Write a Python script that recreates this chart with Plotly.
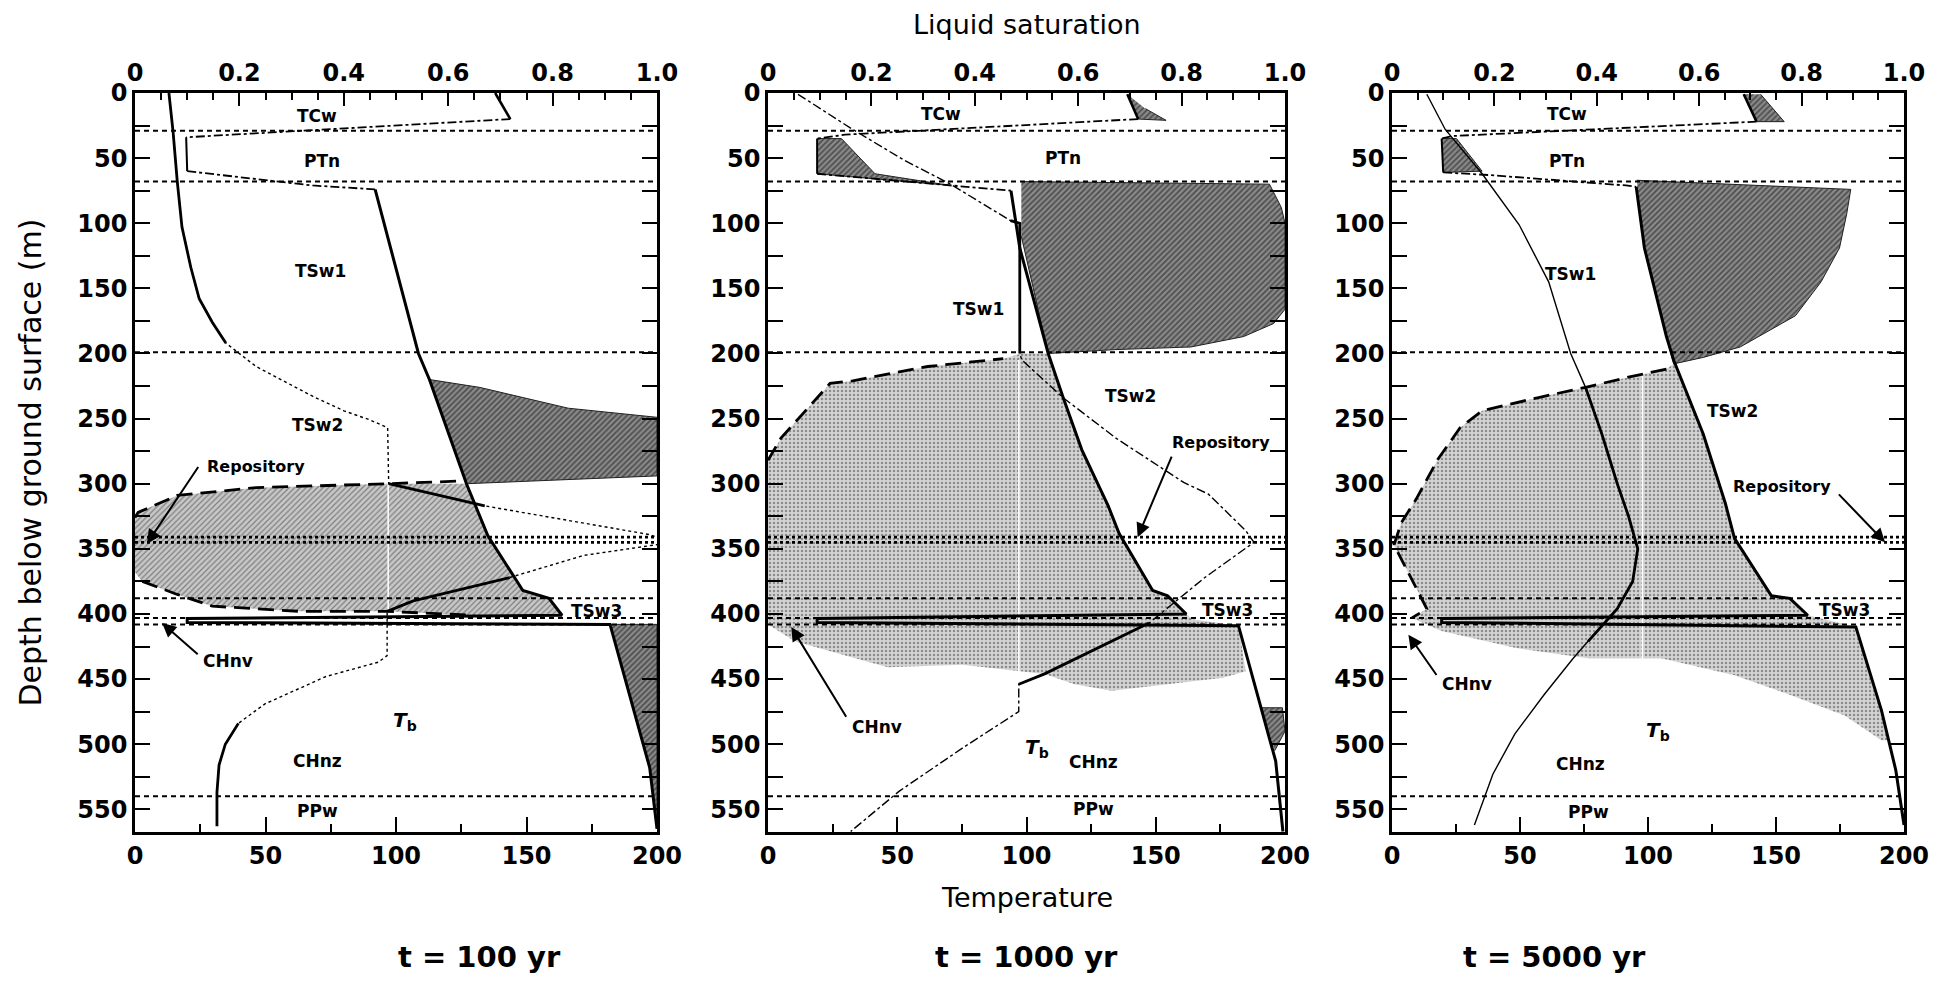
import plotly.graph_objects as go

# ---------------- data ----------------
LAYER_DEPTHS = [29, 68, 199, 388, 403, 408, 540]
REPOSITORY_DEPTHS = [341, 345]
DEPTH_TICKS = [0, 50, 100, 150, 200, 250, 300, 350, 400, 450, 500, 550]
TEMP_TICKS = [0, 50, 100, 150, 200]
SAT_TICKS = [0, 0.2, 0.4, 0.6, 0.8, 1.0]
SAT_TICK_TEXT = ["0", "0.2", "0.4", "0.6", "0.8", "1.0"]
PANEL_TITLES = ["t = 100 yr", "t = 1000 yr", "t = 5000 yr"]

# temperature profiles (deg C, depth m)
P1_TEMP = [(13, 0), (14.6, 30), (16.2, 68), (18, 103), (21.4, 134), (24.6, 158), (29.6, 176),
           (34.8, 192), (46.4, 210), (68.2, 233), (80, 244), (90, 251), (96.8, 257), (97.2, 300),
           (134, 317), (197, 339), (206, 345), (172, 355), (143.6, 372), (106.6, 390), (96.6, 398),
           (96.6, 432), (93.2, 437), (73.2, 448), (49.8, 469), (39.6, 484), (34.6, 500),
           (32.2, 516), (31.4, 537), (31.4, 563)]
P2_TEMP = [(11.6, 1), (32.8, 28), (53, 52), (70.6, 70), (93.8, 98), (97.4, 100), (97.4, 200),
           (98.2, 205), (114.2, 234), (134.6, 265), (160.8, 299), (170.4, 308), (184.8, 336),
           (188, 345), (169, 372), (154.6, 395), (147.4, 407), (107, 446), (97, 454), (97, 475),
           (95.4, 477), (75.2, 503), (50.8, 536), (32, 567)]
P3_TEMP = [(13.6, 1), (20.8, 28), (35.2, 62), (49.6, 101), (61.2, 145), (69.8, 200), (75.6, 226),
           (82, 262), (88, 300), (92.4, 325), (96, 350), (94, 375), (88, 396), (82.4, 408),
           (76.6, 421), (70.8, 434), (59.4, 462), (48, 492), (39.4, 523), (32.2, 562)]

# liquid saturation profiles (fraction, depth m)
P1_SAT_TCW = [(0.69, 0), (0.719, 20)]
P1_SAT_TRANS1 = [(0.719, 20), (0.40, 27), (0.098, 34)]
P1_SAT_PTN = [(0.098, 34), (0.1, 60)]
P1_SAT_TRANS2 = [(0.1, 60), (0.34, 71), (0.46, 74)]
P1_SAT_MAIN = [(0.46, 74), (0.543, 200), (0.564, 220), (0.635, 300), (0.676, 340), (0.743, 382),
               (0.793, 388), (0.818, 401), (0.1, 403.5), (0.1, 406.5), (0.91, 408), (0.986, 518),
               (1.0, 565)]

P2_SAT_TCW = [(0.695, 1), (0.716, 20)]
P2_SAT_TRANS1 = [(0.716, 20), (0.149, 32), (0.095, 35)]
P2_SAT_PTN = [(0.095, 35), (0.095, 62)]
P2_SAT_TRANS2 = [(0.095, 62), (0.353, 71), (0.47, 75)]
P2_SAT_MAIN = [(0.47, 75), (0.487, 119), (0.542, 200), (0.571, 234), (0.607, 274), (0.658, 317),
               (0.679, 338), (0.744, 382), (0.773, 386), (0.809, 400), (0.095, 403.5),
               (0.095, 406.5), (0.91, 409), (0.953, 472), (0.982, 513), (0.996, 567)]

P3_SAT_TCW = [(0.687, 1), (0.712, 22)]
P3_SAT_TRANS1 = [(0.712, 22), (0.119, 33), (0.097, 35)]
P3_SAT_PTN = [(0.097, 35), (0.1, 61)]
P3_SAT_TRANS2 = [(0.1, 61), (0.19, 63), (0.457, 71), (0.477, 72)]
P3_SAT_MAIN = [(0.477, 72), (0.493, 119), (0.536, 187), (0.55, 205), (0.608, 262), (0.651, 315),
               (0.669, 342), (0.741, 386), (0.777, 388), (0.812, 401), (0.097, 403.5),
               (0.097, 406.5), (0.906, 410), (0.956, 474), (0.984, 520), (1.0, 562)]

# wetted (condensate) zones - dark hatch (saturation, depth)
P1_WET = [
    [(0.564, 220), (0.66, 226), (0.83, 242), (1.0, 249), (1.0, 294), (0.635, 300), (0.60, 260)],
    [(0.91, 408), (1.0, 408), (1.0, 565), (0.986, 518)],
]
P2_WET = [
    [(0.695, 1), (0.716, 20), (0.77, 21), (0.73, 12)],
    [(0.095, 35), (0.142, 35), (0.207, 62), (0.353, 71), (0.095, 62)],
    [(0.49, 68), (0.97, 70), (0.993, 88), (1.0, 100), (1.0, 166), (0.978, 177), (0.92, 187),
     (0.818, 195), (0.673, 197), (0.542, 200), (0.49, 110)],
    [(0.955, 472), (0.995, 472), (1.0, 490), (0.98, 505)],
]
P3_WET = [
    [(0.687, 1), (0.712, 22), (0.766, 22), (0.72, 1)],
    [(0.097, 35), (0.126, 35), (0.176, 60), (0.1, 61)],
    [(0.478, 67), (0.896, 74), (0.888, 93), (0.874, 119), (0.838, 145), (0.788, 171), (0.68, 195),
     (0.608, 203), (0.55, 208), (0.536, 187), (0.493, 119)],
]

# dried-out zones - light stipple (saturation, depth)
P1_DRY = [(0, 325), (0.006, 322), (0.081, 309), (0.232, 303), (0.483, 300), (0.635, 300),
          (0.676, 340), (0.743, 382), (0.793, 388), (0.818, 401), (0.65, 401), (0.483, 398),
          (0.316, 398), (0.148, 394), (0.081, 385), (0.014, 375), (0, 368)]
P2_DRY = [(0, 282), (0.025, 265), (0.12, 223), (0.164, 221), (0.309, 210), (0.455, 204),
          (0.49, 200), (0.542, 200), (0.571, 234), (0.607, 274), (0.658, 317), (0.679, 338),
          (0.744, 382), (0.773, 386), (0.809, 400), (0.82, 404), (0.91, 409), (0.924, 444),
          (0.88, 449), (0.773, 454), (0.665, 459), (0.593, 454), (0.535, 446), (0.376, 439),
          (0.232, 441), (0.16, 433), (0.052, 421), (0, 408)]
P3_DRY = [(0.55, 208), (0.536, 212), (0.464, 218), (0.378, 226), (0.284, 234), (0.176, 244),
          (0.133, 257), (0.09, 281), (0.047, 312), (0.018, 330), (0.004, 347), (0.025, 363),
          (0.054, 386), (0.068, 396), (0.039, 403), (0.097, 413), (0.24, 426), (0.383, 434),
          (0.526, 434), (0.669, 447), (0.777, 462), (0.884, 478), (0.956, 497), (0.97, 497),
          (0.956, 474), (0.906, 410), (0.812, 401), (0.777, 388), (0.741, 386), (0.669, 342),
          (0.608, 262), (0.55, 208)]

# dry-out fronts (dashed)
P1_FRONT = [
    [(0, 326), (0.006, 322), (0.081, 309), (0.232, 303), (0.483, 300), (0.62, 298)],
    [(0.014, 375), (0.081, 385), (0.148, 394), (0.316, 398), (0.483, 398), (0.65, 401)],
]
P2_FRONT = [
    [(0, 282), (0.025, 265), (0.12, 223), (0.164, 221), (0.309, 210), (0.455, 204)],
]
P3_FRONT = [
    [(0.536, 212), (0.464, 218), (0.378, 226), (0.284, 234), (0.176, 244), (0.133, 257),
     (0.09, 281), (0.047, 312), (0.018, 330), (0.004, 347), (0.025, 363), (0.054, 386),
     (0.068, 396), (0.039, 403)],
]

# boiling-temperature trace through the dry zone
P1_TB = [(0.485, 300), (0.485, 440)]
P2_TB = [(0.485, 205), (0.485, 470)]
P3_TB = [(0.489, 215), (0.489, 560)]

# layer labels (text, saturation, depth)
P1_LABELS = [("TCw", 0.348, 18), ("PTn", 0.358, 52), ("TSw1", 0.355, 137), ("TSw2", 0.35, 255),
             ("Repository", 0.232, 287), ("TSw3", 0.885, 398), ("CHnv", 0.178, 436),
             ("<i>T</i><sub>b</sub>", 0.517, 482), ("CHnz", 0.349, 513), ("PPw", 0.349, 551)]
P2_LABELS = [("TCw", 0.335, 16), ("PTn", 0.571, 50), ("TSw1", 0.407, 166), ("TSw2", 0.702, 233),
             ("Repository", 0.876, 268), ("TSw3", 0.888, 397), ("CHnv", 0.21, 487),
             ("<i>T</i><sub>b</sub>", 0.52, 503), ("CHnz", 0.629, 514), ("PPw", 0.629, 550)]
P3_LABELS = [("TCw", 0.342, 16), ("PTn", 0.342, 52), ("TSw1", 0.349, 139), ("TSw2", 0.665, 244),
             ("Repository", 0.762, 302), ("TSw3", 0.884, 397), ("CHnv", 0.147, 454),
             ("<i>T</i><sub>b</sub>", 0.519, 490), ("CHnz", 0.369, 515), ("PPw", 0.383, 552)]

# arrows (tail sat, tail depth, head sat, head depth)
P1_ARROWS = [(0.123, 286, 0.023, 346), (0.123, 432, 0.052, 407)]
P2_ARROWS = [(0.782, 278, 0.715, 341), (0.153, 480, 0.045, 410)]
P3_ARROWS = [(0.87, 307, 0.963, 345), (0.089, 448, 0.032, 416)]

# ---------------- layout geometry (page pixels) ----------------
PAGE_W, PAGE_H = 1956, 983
BODY = 8                      # default page margin around the plot div
FIG_W, FIG_H = PAGE_W - 2 * BODY, PAGE_H - 2 * BODY
PANEL_PX = [(135, 657), (768, 1285), (1392, 1904)]
Y_TOP_PX, Y_BOT_PX = 93, 832
DEPTH_MAX = 567.4
T_MAX = 200.0                 # full scale: saturation 1.0 <-> 200 deg C on the shared frame
FONT = "DejaVu Sans"


def fx(px):
    return (px - BODY) / FIG_W


def fy(py):
    return 1 - (py - BODY) / FIG_H


def sat_x(seq):
    # saturation values expressed on the temperature axis (same frame, 0..1 -> 0..200)
    return [s * T_MAX for s, d in seq]


def depths(seq):
    return [d for s, d in seq]


STIPPLE = dict(shape=".", fgcolor="#444444", bgcolor="#d4d4d4", size=4, solidity=0.3)
STIPPLE_DENSE = dict(shape="/", fgcolor="#333333", bgcolor="#c8c8c8", size=4, solidity=0.3)

panels = [
    dict(temp=P1_TEMP, sat=[P1_SAT_TCW, P1_SAT_TRANS1, P1_SAT_PTN, P1_SAT_TRANS2, P1_SAT_MAIN],
         wet=P1_WET, dry=P1_DRY, front=P1_FRONT, tb=P1_TB, labels=P1_LABELS, arrows=P1_ARROWS,
         tdash="dot", thick=[(0, 192), (300, 317), (372, 398), (484, 563)], dry_style=STIPPLE_DENSE),
    dict(temp=P2_TEMP, sat=[P2_SAT_TCW, P2_SAT_TRANS1, P2_SAT_PTN, P2_SAT_TRANS2, P2_SAT_MAIN],
         wet=P2_WET, dry=P2_DRY, front=P2_FRONT, tb=P2_TB, labels=P2_LABELS, arrows=P2_ARROWS,
         tdash="dashdot", thick=[(98, 200), (407, 454)], dry_style=STIPPLE),
    dict(temp=P3_TEMP, sat=[P3_SAT_TCW, P3_SAT_TRANS1, P3_SAT_PTN, P3_SAT_TRANS2, P3_SAT_MAIN],
         wet=P3_WET, dry=P3_DRY, front=P3_FRONT, tb=P3_TB, labels=P3_LABELS, arrows=P3_ARROWS,
         tdash="solid", thick=[(226, 421)], dry_style=STIPPLE),
]
SAT_STYLES = [("solid", 2.6), ("dashdot", 1.8), ("solid", 2.0), ("dashdot", 1.8), ("solid", 3.0)]

fig = go.Figure()
layout = dict(
    width=FIG_W, height=FIG_H, autosize=False, paper_bgcolor="white", plot_bgcolor="white",
    margin=dict(l=0, r=0, t=0, b=0, pad=0), showlegend=False,
    font=dict(family=FONT, color="black"),
)
annotations = []

ydom = [fy(Y_BOT_PX), fy(Y_TOP_PX)]
tickfont = dict(family=FONT, size=24, color="black", weight="bold")

for i, p in enumerate(panels):
    n = i + 1
    xb = 2 * i + 1
    xt = 2 * i + 2
    xb_ref = "x" if xb == 1 else f"x{xb}"
    xt_ref = f"x{xt}"
    y_ref = "y" if n == 1 else f"y{n}"
    xdom = [fx(PANEL_PX[i][0]), fx(PANEL_PX[i][1])]

    layout["xaxis" if xb == 1 else f"xaxis{xb}"] = dict(
        domain=xdom, range=[0, T_MAX], anchor=y_ref, side="bottom", automargin=False,
        tickvals=TEMP_TICKS, ticks="inside", ticklen=15, tickwidth=2, tickcolor="black",
        minor=dict(dtick=25, tick0=0, ticks="inside", ticklen=8, tickwidth=2, tickcolor="black"),
        showline=True, linewidth=2.5, linecolor="black", showgrid=False, zeroline=False,
        tickfont=tickfont, fixedrange=True,
    )
    layout[f"xaxis{xt}"] = dict(
        overlaying=xb_ref, range=[0, 1], anchor=y_ref, side="top", automargin=False,
        tickvals=SAT_TICKS, ticktext=SAT_TICK_TEXT, ticks="inside", ticklen=13, tickwidth=2,
        tickcolor="black",
        minor=dict(dtick=0.05, tick0=0, ticks="inside", ticklen=7, tickwidth=2, tickcolor="black"),
        showline=True, linewidth=2.5, linecolor="black", showgrid=False, zeroline=False,
        tickfont=tickfont, fixedrange=True,
    )
    layout["yaxis" if n == 1 else f"yaxis{n}"] = dict(
        domain=ydom, range=[DEPTH_MAX, 0], anchor=xb_ref, automargin=False,
        tickvals=DEPTH_TICKS, ticks="inside", ticklen=15, tickwidth=2, tickcolor="black",
        minor=dict(dtick=25, tick0=0, ticks="inside", ticklen=8, tickwidth=2, tickcolor="black"),
        showline=True, linewidth=2.5, linecolor="black", mirror="allticks",
        showgrid=False, zeroline=False, tickfont=tickfont, fixedrange=True,
    )

    # dried-out zone (light stipple)
    fig.add_trace(go.Scatter(
        x=sat_x(p["dry"]), y=depths(p["dry"]), xaxis=xb_ref, yaxis=y_ref,
        mode="lines", fill="toself", line=dict(width=0), fillcolor="#cccccc",
        fillpattern=p["dry_style"], hoverinfo="skip"))
    # wet zones (dark hatch)
    for poly in p["wet"]:
        fig.add_trace(go.Scatter(
            x=sat_x(poly), y=depths(poly), xaxis=xb_ref, yaxis=y_ref,
            mode="lines", fill="toself", line=dict(width=1, color="#222"), fillcolor="#5a5a5a",
            fillpattern=dict(shape="/", fgcolor="#111111", bgcolor="#8a8a8a", size=4, solidity=0.45),
            hoverinfo="skip"))
    # boiling temperature trace through dry zone
    fig.add_trace(go.Scatter(
        x=sat_x(p["tb"]), y=depths(p["tb"]), xaxis=xb_ref, yaxis=y_ref,
        mode="lines", line=dict(color="white", width=1.5), hoverinfo="skip"))
    # layer boundaries
    for d in LAYER_DEPTHS:
        fig.add_trace(go.Scatter(
            x=[0, T_MAX], y=[d, d], xaxis=xb_ref, yaxis=y_ref, mode="lines",
            line=dict(color="black", width=2, dash="5px,4px"), hoverinfo="skip"))
    for d in REPOSITORY_DEPTHS:
        fig.add_trace(go.Scatter(
            x=[0, T_MAX], y=[d, d], xaxis=xb_ref, yaxis=y_ref, mode="lines",
            line=dict(color="black", width=2.8, dash="3px,3px"), hoverinfo="skip"))
    # dry-out fronts
    for seg in p["front"]:
        fig.add_trace(go.Scatter(
            x=sat_x(seg), y=depths(seg), xaxis=xb_ref, yaxis=y_ref,
            mode="lines", line=dict(color="black", width=2.8, dash="16px,8px"), hoverinfo="skip"))
    # saturation curves
    for seg, (dash, wdt) in zip(p["sat"], SAT_STYLES):
        fig.add_trace(go.Scatter(
            x=sat_x(seg), y=depths(seg), xaxis=xb_ref, yaxis=y_ref,
            mode="lines", line=dict(color="black", width=wdt, dash=dash), hoverinfo="skip"))
    # temperature curve: thin base plus heavier stretches
    fig.add_trace(go.Scatter(
        x=[t for t, d in p["temp"]], y=[d for t, d in p["temp"]], xaxis=xb_ref, yaxis=y_ref,
        mode="lines", line=dict(color="black", width=1.4, dash=p["tdash"]), hoverinfo="skip"))
    for lo, hi in p["thick"]:
        pts = [(t, d) for t, d in p["temp"] if lo <= d <= hi]
        fig.add_trace(go.Scatter(
            x=[t for t, d in pts], y=[d for t, d in pts], xaxis=xb_ref, yaxis=y_ref,
            mode="lines", line=dict(color="black", width=2.8), hoverinfo="skip"))
    # invisible trace so the top (saturation) axis is drawn
    fig.add_trace(go.Scatter(
        x=[0, 1], y=[0, 0], xaxis=xt_ref, yaxis=y_ref, mode="lines",
        line=dict(width=0, color="rgba(0,0,0,0)"), hoverinfo="skip"))

    # labels
    for text, s, d in p["labels"]:
        size = 16 if text == "Repository" else 17
        if text.startswith("<i>"):
            size = 20
        annotations.append(dict(
            text=text, x=s * T_MAX, y=d, xref=xb_ref, yref=y_ref, showarrow=False,
            font=dict(family=FONT, size=size, color="black", weight="bold")))
    for ts, td, hs, hd in p["arrows"]:
        annotations.append(dict(
            text="", x=hs * T_MAX, y=hd, ax=ts * T_MAX, ay=td, xref=xb_ref, yref=y_ref,
            axref=xb_ref, ayref=y_ref, showarrow=True, arrowhead=2, arrowsize=1.4,
            arrowwidth=2, arrowcolor="black"))
    # panel title
    annotations.append(dict(
        text=PANEL_TITLES[i], x=fx((PANEL_PX[i][0] + PANEL_PX[i][1]) / 2),
        y=fy(957), xref="paper", yref="paper", showarrow=False, yanchor="middle",
        font=dict(family=FONT, size=29, color="black", weight="bold")))

# axis titles
annotations.append(dict(text="Liquid saturation", x=fx((PANEL_PX[1][0] + PANEL_PX[1][1]) / 2),
                        y=fy(24), xref="paper", yref="paper", showarrow=False,
                        yanchor="middle", font=dict(family=FONT, size=27, color="black")))
annotations.append(dict(text="Temperature", x=fx((PANEL_PX[1][0] + PANEL_PX[1][1]) / 2),
                        y=fy(897), xref="paper", yref="paper", showarrow=False,
                        yanchor="middle", font=dict(family=FONT, size=27, color="black")))
annotations.append(dict(text="Depth below ground surface (m)", x=fx(30),
                        y=fy((Y_TOP_PX + Y_BOT_PX) / 2),
                        xref="paper", yref="paper", showarrow=False, textangle=-90,
                        xanchor="center", yanchor="middle",
                        font=dict(family=FONT, size=30, color="black")))

layout["annotations"] = annotations
fig.update_layout(**layout)
fig.write_html("out.html")
